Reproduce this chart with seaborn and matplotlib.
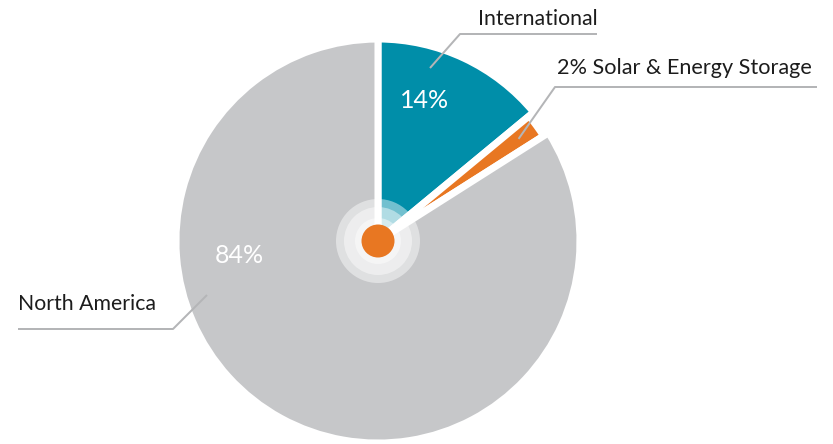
import numpy as np
import matplotlib
matplotlib.use("Agg")
import matplotlib.pyplot as plt
import seaborn as sns
from matplotlib.patches import Circle

# ---- data ----
categories = ["International", "Solar & Energy Storage", "North America"]
shares = [14, 2, 84]
pct_labels = ["14%", "2%", "84%"]
colors = ["#008ea9", "#e87722", "#c6c7c9"]

sns.set_theme(style="white")
plt.rcParams['font.family'] = ['Lato', 'DejaVu Sans']

W, H = 833, 444
fig = plt.figure(figsize=(W / 100, H / 100), dpi=100)
ax = fig.add_axes([0, 0, 1, 1])

cx, cy = 378, H - 241
R = 202
gap_pt = 7 * 72 / 100

wedges, _ = ax.pie(shares, colors=colors, startangle=90, counterclock=False,
                   radius=R, center=(cx, cy), explode=[0, 0.02, 0.055],
                   wedgeprops=dict(edgecolor="white", linewidth=gap_pt),
                   frame=True)
wedges[1].set_radius(196)

ax.set_xlim(0, W)
ax.set_ylim(0, H)
ax.set_aspect("equal")
ax.axis("off")

# centre decoration
for r in (42, 34, 23):
    ax.add_patch(Circle((cx, cy), r, facecolor="white", alpha=0.45,
                        edgecolor="none", zorder=5))
ax.add_patch(Circle((cx, cy), 16.5, facecolor=colors[1], edgecolor="none", zorder=6))

line_c = "#b4b5b7"
lw = 2 * 72 / 100
txt_c = "#1c1c1c"

# International
ax.plot([597, 460, 430], [H - 34, H - 34, H - 68], color=line_c, lw=lw, zorder=7,
        solid_capstyle="butt")
ax.text(478, H - 25, categories[0], ha="left", va="baseline", fontsize=15.3, color=txt_c)
ax.text(425, H - 108, pct_labels[0], ha="center", va="baseline", fontsize=18,
        color="white", zorder=8)

# Solar & Energy Storage (leader end inside orange wedge)
w = wedges[1]
mid = np.deg2rad((w.theta1 + w.theta2) / 2)
ox, oy = w.center[0] + 0.86 * R * np.cos(mid), w.center[1] + 0.86 * R * np.sin(mid)
ax.plot([817, 555, ox], [H - 87, H - 87, oy], color=line_c, lw=lw, zorder=7,
        solid_capstyle="butt")
ax.text(557, H - 74, f"{pct_labels[1]} {categories[1]}", ha="left", va="baseline",
        fontsize=15.6, color=txt_c)

# North America
ax.plot([18, 173, 207], [H - 329, H - 329, H - 295], color=line_c, lw=lw, zorder=7,
        solid_capstyle="butt")
ax.text(18, H - 310, categories[2], ha="left", va="baseline", fontsize=15.3, color=txt_c)
ax.text(239, H - 263, pct_labels[2], ha="center", va="baseline", fontsize=18,
        color="white", zorder=8)

fig.savefig("out.png", dpi=100)
